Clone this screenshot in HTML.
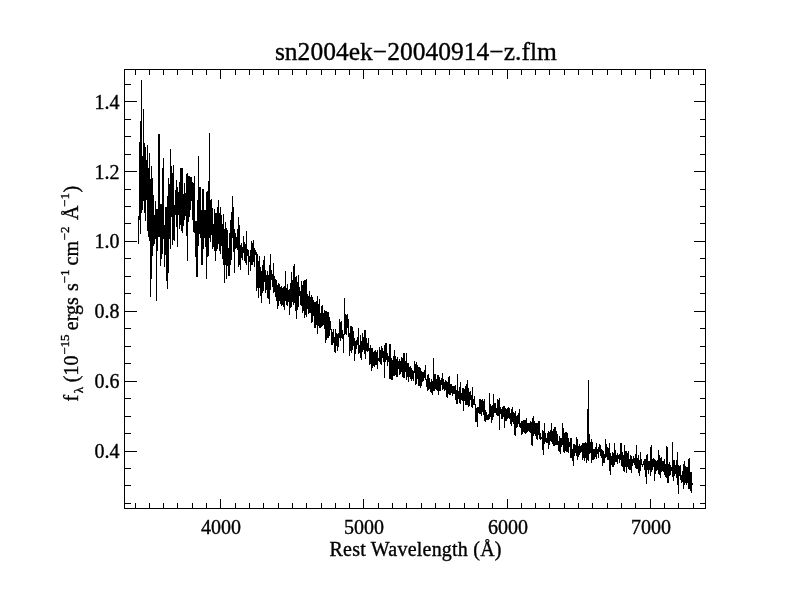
<!DOCTYPE html>
<html><head><meta charset="utf-8"><title>sn2004ek-20040914-z.flm</title>
<style>
html,body{margin:0;padding:0;background:#fff;}
body{width:792px;height:612px;overflow:hidden;}
svg{display:block;filter:grayscale(1);font-family:"Liberation Serif","DejaVu Serif",serif;fill:#000;}
text{stroke:#000;stroke-width:0.35px;}
.t{font-size:20px;}
.s{font-size:13px;}
</style></head><body>
<svg width="792" height="612" viewBox="0 0 792 612">
<rect width="792" height="612" fill="#fff"/>
<path d="M124.5 69.5H705.5V508.5H124.5ZM135.5 508.5v-6M135.5 69.5v5M149.5 508.5v-6M149.5 69.5v5M163.5 508.5v-6M163.5 69.5v5M177.5 508.5v-6M177.5 69.5v5M192.5 508.5v-6M192.5 69.5v5M206.5 508.5v-6M206.5 69.5v5M220.5 508.5v-10M220.5 69.5v9M235.5 508.5v-6M235.5 69.5v5M249.5 508.5v-6M249.5 69.5v5M263.5 508.5v-6M263.5 69.5v5M278.5 508.5v-6M278.5 69.5v5M292.5 508.5v-6M292.5 69.5v5M306.5 508.5v-6M306.5 69.5v5M321.5 508.5v-6M321.5 69.5v5M335.5 508.5v-6M335.5 69.5v5M349.5 508.5v-6M349.5 69.5v5M363.5 508.5v-10M363.5 69.5v9M378.5 508.5v-6M378.5 69.5v5M392.5 508.5v-6M392.5 69.5v5M406.5 508.5v-6M406.5 69.5v5M421.5 508.5v-6M421.5 69.5v5M435.5 508.5v-6M435.5 69.5v5M449.5 508.5v-6M449.5 69.5v5M464.5 508.5v-6M464.5 69.5v5M478.5 508.5v-6M478.5 69.5v5M492.5 508.5v-6M492.5 69.5v5M507.5 508.5v-10M507.5 69.5v9M521.5 508.5v-6M521.5 69.5v5M535.5 508.5v-6M535.5 69.5v5M549.5 508.5v-6M549.5 69.5v5M564.5 508.5v-6M564.5 69.5v5M578.5 508.5v-6M578.5 69.5v5M592.5 508.5v-6M592.5 69.5v5M607.5 508.5v-6M607.5 69.5v5M621.5 508.5v-6M621.5 69.5v5M635.5 508.5v-6M635.5 69.5v5M650.5 508.5v-10M650.5 69.5v9M664.5 508.5v-6M664.5 69.5v5M678.5 508.5v-6M678.5 69.5v5M693.5 508.5v-6M693.5 69.5v5M124.5 503.5h6M705.5 503.5h-6M124.5 485.5h6M705.5 485.5h-6M124.5 468.5h6M705.5 468.5h-6M124.5 451.5h12M705.5 451.5h-12M124.5 433.5h6M705.5 433.5h-6M124.5 416.5h6M705.5 416.5h-6M124.5 398.5h6M705.5 398.5h-6M124.5 381.5h12M705.5 381.5h-12M124.5 363.5h6M705.5 363.5h-6M124.5 346.5h6M705.5 346.5h-6M124.5 328.5h6M705.5 328.5h-6M124.5 311.5h12M705.5 311.5h-12M124.5 293.5h6M705.5 293.5h-6M124.5 276.5h6M705.5 276.5h-6M124.5 258.5h6M705.5 258.5h-6M124.5 241.5h12M705.5 241.5h-12M124.5 223.5h6M705.5 223.5h-6M124.5 206.5h6M705.5 206.5h-6M124.5 189.5h6M705.5 189.5h-6M124.5 171.5h12M705.5 171.5h-12M124.5 154.5h6M705.5 154.5h-6M124.5 136.5h6M705.5 136.5h-6M124.5 119.5h6M705.5 119.5h-6M124.5 101.5h12M705.5 101.5h-12M124.5 84.5h6M705.5 84.5h-6" fill="none" stroke="#000" stroke-width="1" shape-rendering="crispEdges"/>
<path d="M138.5 216V244M139.5 142V220M140.5 121V234M141.5 80V213M142.5 156V210M143.5 109V201M144.5 143V213M145.5 147V221M146.5 160V200M147.5 145V231M148.5 168V237M149.5 153V241M150.5 179V297M151.5 166V279M152.5 178V256M153.5 195V246M154.5 215V244M155.5 201V239M156.5 209V301M157.5 209V251M158.5 134V237M159.5 134V237M160.5 204V266M161.5 204V259M162.5 168V254M163.5 158V239M164.5 225V267M165.5 207V255M166.5 207V281M167.5 196V289M168.5 178V273M169.5 184V239M170.5 149V249M171.5 166V217M172.5 173V245M173.5 165V240M174.5 205V241M175.5 190V215M176.5 180V227M177.5 187V247M178.5 192V215M179.5 182V229M180.5 168V225M181.5 168V231M182.5 168V233M183.5 194V226M184.5 183V220M185.5 193V216M186.5 174V236M187.5 173V261M188.5 176V222M189.5 176V217M190.5 177V210M191.5 177V201M192.5 182V220M193.5 183V232M194.5 176V233M195.5 221V257M196.5 221V277M197.5 200V277M198.5 156V246M199.5 187V234M200.5 187V238M201.5 210V265M202.5 189V265M203.5 189V249M204.5 210V238M205.5 210V247M206.5 192V279M207.5 191V257M208.5 181V256M209.5 133V238M210.5 200V242M211.5 199V235M212.5 208V249M213.5 224V247M214.5 209V251M215.5 213V261M216.5 213V251M217.5 207V249M218.5 200V244M219.5 213V251M220.5 207V254M221.5 215V246M222.5 224V259M223.5 214V265M224.5 229V283M225.5 222V265M226.5 228V279M227.5 230V266M228.5 248V276M229.5 233V276M230.5 220V265M231.5 212V260M232.5 196V238M233.5 207V252M234.5 229V273M235.5 233V249M236.5 237V248M237.5 229V250M238.5 217V267M239.5 225V265M240.5 245V270M241.5 243V258M242.5 247V260M243.5 236V253M244.5 242V261M245.5 244V263M246.5 231V265M247.5 249V256M248.5 250V275M249.5 256V262M250.5 250V271M251.5 241V265M252.5 243V265M253.5 240V262M254.5 248V267M255.5 250V255M256.5 252V291M257.5 254V288M258.5 261V298M259.5 256V288M260.5 267V296M261.5 271V303M262.5 265V293M263.5 260V291M264.5 256V282M265.5 270V293M266.5 275V290M267.5 271V298M268.5 275V299M269.5 265V304M270.5 254V290M271.5 270V280M272.5 274V287M273.5 263V293M274.5 276V292M275.5 279V297M276.5 280V301M277.5 285V309M278.5 283V306M279.5 284V301M280.5 287V304M281.5 286V306M282.5 288V305M283.5 287V307M284.5 286V310M285.5 271V301M286.5 288V305M287.5 284V306M288.5 290V302M289.5 289V315M290.5 283V308M291.5 272V307M292.5 280V302M293.5 266V305M294.5 264V303M295.5 277V311M296.5 276V319M297.5 282V310M298.5 275V307M299.5 287V296M300.5 291V305M301.5 281V306M302.5 285V313M303.5 281V311M304.5 280V318M305.5 280V315M306.5 279V317M307.5 294V309M308.5 296V314M309.5 291V313M310.5 297V313M311.5 295V323M312.5 297V322M313.5 300V316M314.5 302V328M315.5 302V328M316.5 301V325M317.5 296V334M318.5 304V326M319.5 299V328M320.5 313V328M321.5 306V327M322.5 305V326M323.5 313V325M324.5 310V329M325.5 311V343M326.5 311V340M327.5 312V338M328.5 312V338M329.5 317V336M330.5 321V330M331.5 329V345M332.5 332V345M333.5 329V343M334.5 337V352M335.5 329V353M336.5 333V346M337.5 334V351M338.5 333V347M339.5 319V338M340.5 322V341M341.5 321V338M342.5 330V339M343.5 334V353M344.5 298V335M345.5 314V334M346.5 315V335M347.5 314V328M348.5 319V337M349.5 333V356M350.5 326V351M351.5 326V353M352.5 327V350M353.5 331V346M354.5 338V361M355.5 341V354M356.5 340V349M357.5 337V345M358.5 328V354M359.5 345V353M360.5 335V358M361.5 341V360M362.5 333V352M363.5 337V350M364.5 330V354M365.5 330V359M366.5 338V351M367.5 343V352M368.5 338V351M369.5 348V365M370.5 345V364M371.5 348V371M372.5 348V368M373.5 352V366M374.5 351V367M375.5 350V365M376.5 352V365M377.5 350V369M378.5 358V361M379.5 347V362M380.5 350V364M381.5 346V365M382.5 348V358M383.5 351V362M384.5 345V378M385.5 343V362M386.5 343V360M387.5 353V366M388.5 356V362M389.5 344V379M390.5 344V379M391.5 358V380M392.5 360V380M393.5 356V376M394.5 350V376M395.5 356V375M396.5 359V377M397.5 357V377M398.5 361V369M399.5 359V375M400.5 361V374M401.5 357V372M402.5 358V377M403.5 353V378M404.5 353V378M405.5 361V372M406.5 353V380M407.5 363V377M408.5 363V382M409.5 367V377M410.5 366V379M411.5 368V381M412.5 370V379M413.5 371V381M414.5 361V373M415.5 364V385M416.5 362V384M417.5 365V379M418.5 367V386M419.5 367V386M420.5 368V388M421.5 371V386M422.5 372V382M423.5 372V381M424.5 370V378M425.5 365V380M426.5 379V387M427.5 375V391M428.5 374V390M429.5 378V389M430.5 382V392M431.5 379V393M432.5 381V395M433.5 358V391M434.5 374V391M435.5 374V389M436.5 379V390M437.5 375V391M438.5 375V395M439.5 377V391M440.5 380V391M441.5 378V385M442.5 373V390M443.5 379V389M444.5 382V391M445.5 380V390M446.5 381V397M447.5 382V398M448.5 377V394M449.5 376V395M450.5 384V395M451.5 384V393M452.5 386V396M453.5 386V394M454.5 386V394M455.5 385V400M456.5 390V404M457.5 374V404M458.5 391V399M459.5 387V403M460.5 382V404M461.5 393V400M462.5 388V401M463.5 388V411M464.5 389V401M465.5 386V405M466.5 384V405M467.5 380V405M468.5 388V407M469.5 392V406M470.5 391V400M471.5 395V407M472.5 387V408M473.5 399V405M474.5 396V405M475.5 404V422M476.5 408V422M477.5 407V427M478.5 407V413M479.5 399V414M480.5 399V414M481.5 400V416M482.5 399V412M483.5 401V415M484.5 399V421M485.5 410V422M486.5 412V420M487.5 415V420M488.5 414V420M489.5 393V419M490.5 404V417M491.5 406V423M492.5 405V420M493.5 394V417M494.5 403V413M495.5 403V413M496.5 408V415M497.5 399V416M498.5 400V416M499.5 398V430M500.5 407V414M501.5 409V419M502.5 407V419M503.5 406V417M504.5 406V428M505.5 408V421M506.5 409V421M507.5 408V419M508.5 407V418M509.5 408V419M510.5 413V424M511.5 409V426M512.5 407V422M513.5 412V424M514.5 413V435M515.5 411V436M516.5 416V428M517.5 415V427M518.5 413V424M519.5 409V427M520.5 423V428M521.5 421V435M522.5 421V434M523.5 420V432M524.5 420V433M525.5 420V434M526.5 418V433M527.5 423V432M528.5 423V431M529.5 423V432M530.5 421V433M531.5 422V445M532.5 418V446M533.5 416V436M534.5 421V434M535.5 423V436M536.5 423V439M537.5 423V440M538.5 421V435M539.5 421V439M540.5 433V440M541.5 437V439M542.5 430V450M543.5 431V455M544.5 423V444M545.5 433V442M546.5 438V443M547.5 433V443M548.5 431V449M549.5 432V445M550.5 430V441M551.5 423V442M552.5 431V444M553.5 429V446M554.5 427V446M555.5 427V445M556.5 431V445M557.5 434V445M558.5 441V451M559.5 436V452M560.5 438V454M561.5 438V447M562.5 423V445M563.5 428V452M564.5 433V453M565.5 432V451M566.5 432V452M567.5 433V452M568.5 438V453M569.5 442V447M570.5 438V458M571.5 438V458M572.5 449V461M573.5 444V466M574.5 444V456M575.5 445V453M576.5 437V456M577.5 439V460M578.5 446V457M579.5 444V455M580.5 446V453M581.5 445V452M582.5 443V460M583.5 443V458M584.5 443V461M585.5 442V458M586.5 443V463M587.5 409V460M588.5 380V461M589.5 434V454M590.5 442V453M591.5 439V463M592.5 442V460M593.5 449V460M594.5 449V459M595.5 447V457M596.5 443V459M597.5 449V454M598.5 447V458M599.5 444V452M600.5 445V456M601.5 449V458M602.5 450V466M603.5 451V463M604.5 454V463M605.5 439V458M606.5 444V457M607.5 447V460M608.5 448V460M609.5 443V471M610.5 453V475M611.5 456V465M612.5 452V467M613.5 453V467M614.5 443V465M615.5 450V462M616.5 455V462M617.5 453V464M618.5 455V459M619.5 454V463M620.5 443V460M621.5 443V466M622.5 452V467M623.5 455V471M624.5 445V472M625.5 451V467M626.5 451V473M627.5 453V467M628.5 451V469M629.5 459V470M630.5 455V470M631.5 456V473M632.5 459V466M633.5 456V463M634.5 458V465M635.5 454V468M636.5 445V469M637.5 458V469M638.5 455V473M639.5 460V476M640.5 452V471M641.5 459V465M642.5 464V467M643.5 461V465M644.5 459V470M645.5 459V477M646.5 455V484M647.5 454V470M648.5 461V474M649.5 461V470M650.5 447V476M651.5 445V472M652.5 459V470M653.5 458V467M654.5 459V481M655.5 460V474M656.5 461V471M657.5 460V470M658.5 450V474M659.5 455V475M660.5 458V478M661.5 457V472M662.5 461V471M663.5 461V472M664.5 459V475M665.5 464V477M666.5 446V478M667.5 447V483M668.5 464V483M669.5 462V476M670.5 465V475M671.5 467V471M672.5 442V477M673.5 460V481M674.5 460V476M675.5 465V474M676.5 460V478M677.5 452V485M678.5 465V494M679.5 466V476M680.5 465V480M681.5 475V483M682.5 471V482M683.5 464V489M684.5 461V485M685.5 466V483M686.5 467V485M687.5 467V483M688.5 459V489M689.5 458V489M690.5 472V491M691.5 472V493M692.5 483V485" fill="none" stroke="#000" stroke-width="1" shape-rendering="crispEdges"/>
<text x="415.9" y="60" text-anchor="middle" font-size="25.5" textLength="282">sn2004ek−20040914−z.flm</text>
<g class="t"><text x="221.1" y="534" text-anchor="middle">4000</text><text x="364.1" y="534" text-anchor="middle">5000</text><text x="508.1" y="534" text-anchor="middle">6000</text><text x="651.1" y="534" text-anchor="middle">7000</text><text x="119.5" y="458" text-anchor="end">0.4</text><text x="119.5" y="388" text-anchor="end">0.6</text><text x="119.5" y="318" text-anchor="end">0.8</text><text x="119.5" y="248" text-anchor="end">1.0</text><text x="119.5" y="179" text-anchor="end">1.2</text><text x="119.5" y="109" text-anchor="end">1.4</text>
<text x="415.5" y="556" text-anchor="middle" textLength="172">Rest Wavelength (Å)</text>
<text transform="translate(78.3 401.5) rotate(-90)"><tspan x="0.0" y="0">f</tspan><tspan x="8.3" y="5" class="s">λ</tspan><tspan x="19.3" y="0">(10</tspan><tspan x="46.7" y="-9.3" class="s">−15</tspan><tspan x="71.3" y="0">ergs</tspan><tspan x="110.6" y="0">s</tspan><tspan x="118.1" y="-9.3" class="s">−1</tspan><tspan x="136.1" y="0">cm</tspan><tspan x="161.1" y="-9.3" class="s">−2</tspan><tspan x="181.5" y="0">Å</tspan><tspan x="194.6" y="-9.3" class="s">−1</tspan><tspan x="209.1" y="0">)</tspan></text>
</g>
</svg>
</body></html>
